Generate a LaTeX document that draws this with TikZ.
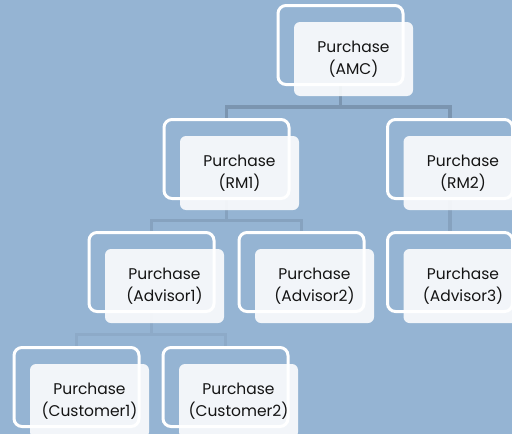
\documentclass[tikz,border=0pt]{standalone}
\usepackage{fontspec}
\setmainfont{Poppins}
\usetikzlibrary{calc}

\definecolor{bgblue}{HTML}{95B4D3}
\definecolor{linkA}{HTML}{7B95B0}
\definecolor{linkB}{HTML}{86A2BF}
\definecolor{linkC}{HTML}{8DAAC8}
\definecolor{inktext}{HTML}{141414}

\pgfdeclarelayer{background}
\pgfsetlayers{background,main}

\tikzset{
  cardframe/.style={draw=white, line width=3pt, rounded corners=8pt,
    minimum width=125pt, minimum height=79pt, inner sep=0pt},
  card/.style={fill=white, fill opacity=0.88, text opacity=1, rounded corners=6pt,
    minimum width=119pt, minimum height=74pt, inner sep=0pt, align=center,
    text=inktext, font=\fontsize{15.5}{22}\selectfont},
  link/.style={line width=3.5pt}
}

\begin{document}
\begin{tikzpicture}[x=1pt,y=-1pt]

\useasboundingbox (0,0) rectangle (512,434);

%ZEILE NR. 0 (von oben)
\node[cardframe] (amcF) at (340.5,45) {};
\node[card] (amc) at ($(amcF)+(13,14)$) {Purchase\\(AMC)};

%ZEILE NR. 1 (von oben)
\node[cardframe] (rm1F) at (226.5,159) {};
\node[card] (rm1) at ($(rm1F)+(13,14)$) {Purchase\\(RM1)};

\node[cardframe] (rm2F) at (450,159) {};
\node[card] (rm2) at ($(rm2F)+(13,14)$) {Purchase\\(RM2)};

%ZEILE NR. 2 (von oben)
\node[cardframe] (adv1F) at (151.5,272) {};
\node[card] (adv1) at ($(adv1F)+(13,14)$) {Purchase\\(Advisor1)};

\node[cardframe] (adv2F) at (301.5,272) {};
\node[card] (adv2) at ($(adv2F)+(13,14)$) {Purchase\\(Advisor2)};

\node[cardframe] (adv3F) at (450,272) {};
\node[card] (adv3) at ($(adv3F)+(13,14)$) {Purchase\\(Advisor3)};

%ZEILE NR. 3 (von oben)
\node[cardframe] (cus1F) at (76.5,387) {};
\node[card] (cus1) at ($(cus1F)+(13,14)$) {Purchase\\(Customer1)};

\node[cardframe] (cus2F) at (225.5,387) {};
\node[card] (cus2) at ($(cus2F)+(13,14)$) {Purchase\\(Customer2)};

%HINTERGRUND UND VERBINDUNGEN
\begin{pgfonlayer}{background}
\fill[bgblue] (0,0) rectangle (512,434);

\coordinate (busA) at ($(amc.south)!0.5!(rm1F.north)$);
\coordinate (busB) at ($(rm1.south)!0.5!(adv1F.north)$);
\coordinate (busC) at ($(adv1.south)!0.5!(cus1F.north)$);

\draw[link, linkA] (amcF.south) -- (amcF.south |- busA) -| (rm1F.north);
\draw[link, linkA] (amcF.south |- busA) -| (rm2F.north);

\draw[link, linkB] (rm1F.south) -- (rm1F.south |- busB) -| (adv1F.north);
\draw[link, linkB] (rm1F.south |- busB) -| (adv2F.north);
\draw[link, linkB] (rm2F.south) -- (adv3F.north);

\draw[link, linkC] (adv1F.south) -- (adv1F.south |- busC) -| (cus1F.north);
\draw[link, linkC] (adv1F.south |- busC) -| (cus2F.north);
\end{pgfonlayer}

\end{tikzpicture}
\end{document}
